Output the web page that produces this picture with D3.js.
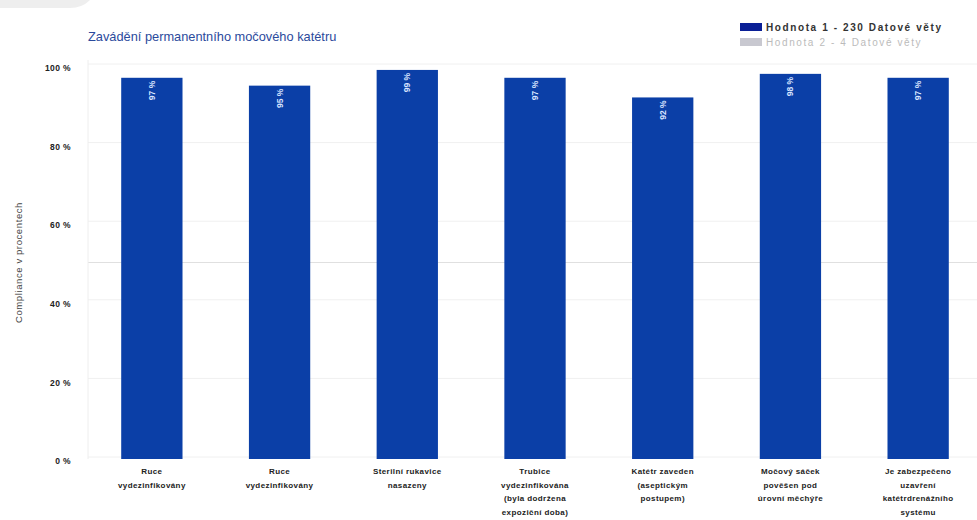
<!DOCTYPE html>
<html><head><meta charset="utf-8">
<script src="https://cdn.jsdelivr.net/npm/d3@7"></script>
<style>
body{margin:0;background:#fff;font-family:"Liberation Sans",Arial,sans-serif;}
</style></head>
<body><svg id="c" width="977" height="520"></svg>
<script>
const categories = [
  ["Ruce","vydezinfikovány"],
  ["Ruce","vydezinfikovány"],
  ["Sterilní rukavice","nasazeny"],
  ["Trubice","vydezinfikována","(byla dodržena","expoziční doba)"],
  ["Katétr zaveden","(aseptickým","postupem)"],
  ["Močový sáček","pověšen pod","úrovní měchýře"],
  ["Je zabezpečeno","uzavření","katétrdrenážního","systému"]
];
const values = [97, 95, 99, 97, 92, 98, 97];
const valueLabels = ["97 %","95 %","99 %","97 %","92 %","98 %","97 %"];
const yTicks = [0, 20, 40, 60, 80, 100];
const title = "Zavádění permanentního močového katétru";
const legendItems = ["Hodnota 1 - 230 Datové věty", "Hodnota 2 - 4 Datové věty"];
const yTitle = "Compliance v procentech";

const svg = d3.select("#c");
const m = {left: 88, right: -5, top: 66, bottom: 61};
const W = 977, H = 520;

// top-left grey tab
svg.append("path").attr("d","M0,0 H90 Q82,8 70,8 H0 Z").attr("fill","#eeeeee");

const x = d3.scaleBand().domain(d3.range(categories.length)).range([m.left, W - m.right]).paddingInner(0.52).paddingOuter(0.26);
const y = d3.scaleLinear().domain([0, 100]).range([H - m.bottom, m.top]);

// gridlines
svg.append("g").selectAll("line").data(yTicks).join("line")
  .attr("x1", m.left).attr("x2", W).attr("y1", d => y(d) - 2).attr("y2", d => y(d) - 2)
  .attr("stroke", "#f0f0f0").attr("stroke-width", 1);
svg.append("line").attr("x1", m.left).attr("x2", W).attr("y1", y(50)).attr("y2", y(50))
  .attr("stroke", "#e0e0e0").attr("stroke-width", 1);
svg.append("line").attr("x1", m.left).attr("x2", m.left).attr("y1", y(100) - 6).attr("y2", y(0))
  .attr("stroke", "#eeeeee");

// y axis
const yAxis = d3.axisLeft(y).tickValues(yTicks).tickFormat(d => d + " %").tickSize(0).tickPadding(0);
const ga = svg.append("g").attr("transform", `translate(71,2)`).call(yAxis);
ga.select(".domain").remove();
ga.selectAll("text").attr("font-size", 8.5).attr("font-weight", "bold").attr("fill", "#222")
  .attr("font-family", "Liberation Sans, Arial").attr("letter-spacing", 0.4);

svg.append("text").attr("transform", `translate(22,${(y(0)+y(100))/2}) rotate(-90)`)
  .attr("text-anchor", "middle").attr("font-size", 9.5).attr("letter-spacing", 0.6).attr("fill", "#444").text(yTitle);

// bars
svg.append("g").selectAll("rect").data(values).join("rect")
  .attr("x", (d, i) => x(i)).attr("width", x.bandwidth())
  .attr("y", d => y(d)).attr("height", d => y(0) - y(d))
  .attr("fill", "#0b3fa7");

// value labels
svg.append("g").selectAll("text").data(values).join("text")
  .attr("transform", (d, i) => `translate(${x(i) + x.bandwidth()/2 + 3},${y(d) + 3}) rotate(-90)`)
  .attr("text-anchor", "end").attr("font-size", 8.5).attr("font-weight", "bold").attr("fill", "#d8e4ff")
  .text((d, i) => valueLabels[i]);

// category labels
const cl = svg.append("g").selectAll("text").data(categories).join("text")
  .attr("x", (d, i) => x(i) + x.bandwidth()/2).attr("y", y(0) + 15)
  .attr("text-anchor", "middle").attr("font-size", 8).attr("font-weight", "bold")
  .attr("letter-spacing", 0.4).attr("fill", "#222");
cl.selectAll("tspan").data(d => d).join("tspan")
  .attr("x", function(){ return this.parentNode.getAttribute("x"); })
  .attr("dy", (d, j) => j === 0 ? 0 : 13.5).text(d => d);

// title
svg.append("text").attr("x", 88).attr("y", 41).attr("font-size", 12.8).attr("fill", "#2b4a9c")
  .attr("font-family", "Liberation Sans, Arial").text(title);

// legend
const lg = svg.append("g").attr("transform", "translate(740,23)");
const lcol = ["#0a1f96", "#c8c8d0"];
const tcol = ["#333", "#bbb"];
legendItems.forEach((t, i) => {
  lg.append("rect").attr("x", 0).attr("y", i * 15).attr("width", 22).attr("height", 8).attr("fill", lcol[i]);
  lg.append("text").attr("x", 26).attr("y", i * 15 + 7.5).attr("font-size", 10).attr("font-weight", i === 0 ? "bold" : "normal")
    .attr("letter-spacing", 1.6).attr("fill", tcol[i]).text(t);
});
</script>
</body></html>
